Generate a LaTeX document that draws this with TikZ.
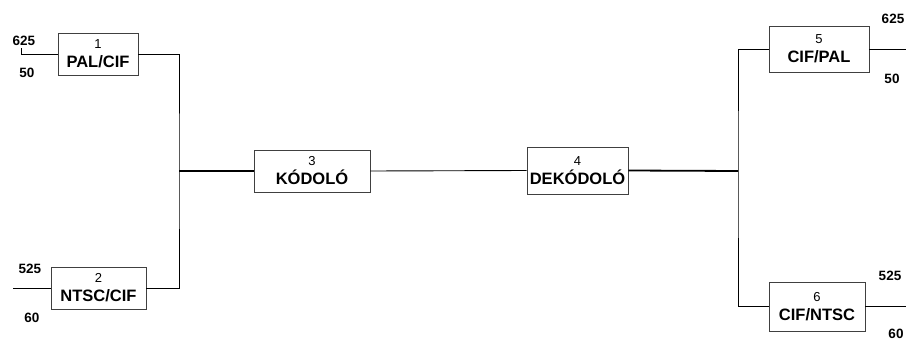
\documentclass[tikz,border=0pt]{standalone}
\usepackage{fontspec}
\setmainfont{Liberation Sans}
\tikzset{
  blokk/.style={draw=black!75, line width=0.9pt, inner sep=0pt, align=center, font=\fontsize{16.5}{19}\selectfont},
  szam/.style={font=\fontsize{13.5}{15}\selectfont\bfseries},
  vezet/.style={line width=0.9pt},
  vastag/.style={line width=1.8pt}
}
\newcommand{\blokkfelirat}[2]{{\fontsize{13}{13}\selectfont #1}\\{\bfseries #2}}
\begin{document}
\begin{tikzpicture}[x=1pt,y=-1pt]
\useasboundingbox (0,0) rectangle (906,340);
\node[blokk, minimum width=80pt, minimum height=42pt] (b1) at (98,54) {\blokkfelirat{1}{PAL/CIF}};
\node[blokk, minimum width=95pt, minimum height=42pt] (b2) at (98.5,288) {\blokkfelirat{2}{NTSC/CIF}};
\node[blokk, minimum width=116pt, minimum height=42pt] (b3) at (312,171) {\blokkfelirat{3}{KÓDOLÓ}};
\node[blokk, minimum width=101pt, minimum height=47pt] (b4) at (577.5,170.5) {\blokkfelirat{4}{DEKÓDOLÓ}};
\node[blokk, minimum width=100pt, minimum height=46pt] (b5) at (819,49) {\blokkfelirat{5}{CIF/PAL}};
\node[blokk, minimum width=96pt, minimum height=49pt] (b6) at (817,306.5) {\blokkfelirat{6}{CIF/NTSC}};
\coordinate (be1) at (21,48);
\coordinate (be2) at (13,288);
\coordinate (jl) at (179,171);
\coordinate (jr) at (738,171);
\coordinate (ki5) at (906,49);
\coordinate (ki6) at (906,306.5);
%bemenetek
\draw[vezet] (be1)--(be1|-b1.west)--(b1.west);
\draw[vezet] (be2)--(b2.west);
\draw[vezet] (b1.east)-|(jl)|-(b2.east);
\draw[vastag] (jl)--(b3.west);
\draw[vezet] (b3.east)--(b4.west);
\draw[vastag] (b4.east)--(jr);
%kimenetek
\draw[vezet] (b5.west)-|(jr)|-(b6.west);
\draw[vezet] (b5.east)--(ki5);
\draw[vezet] (b6.east)--(ki6);
\node[szam] (l625a) at (24,41) {625};
\node[szam] (l50a) at (27,73) {50};
\node[szam] (l525a) at (30,269) {525};
\node[szam] (l60a) at (32,318) {60};
\node[szam] (l625b) at (893,19) {625};
\node[szam] (l50b) at (892,79) {50};
\node[szam] (l525b) at (890,276) {525};
\node[szam] (l60b) at (896,334) {60};
\end{tikzpicture}
\end{document}
